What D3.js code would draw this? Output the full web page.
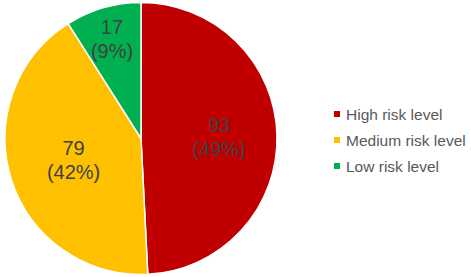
<!DOCTYPE html>
<html>
<head>
<meta charset="utf-8">
<script src="https://cdn.jsdelivr.net/npm/d3@7"></script>
<style>
  body { margin: 0; background: #fff; }
  svg { display: block; font-family: Arial, "Liberation Sans", sans-serif; }
</style>
</head>
<body>
<div id="chart"></div>
<script>
// data
var categories = ["High risk level", "Medium risk level", "Low risk level"];
var values = [93, 79, 17];
var colors = ["#C00000", "#FFC000", "#00B050"];

// layout
var width = 471, height = 277;
var cx = 141, cy = 138.5, radius = 136;
var labelFactor = [0.574, 0.52, 0.765];  // excel best-fit label spots

var svg = d3.select("#chart").append("svg")
    .attr("width", width)
    .attr("height", height);

var total = d3.sum(values);
var rows = categories.map(function(c, i) { return { name: c, value: values[i], color: colors[i], i: i }; });

var pie = d3.pie().sort(null).value(function(d) { return d.value; });
var arc = d3.arc().innerRadius(0).outerRadius(radius);

var g = svg.append("g").attr("transform", "translate(" + cx + "," + cy + ")");

var slices = pie(rows);

g.selectAll("path")
    .data(slices)
    .enter()
    .append("path")
        .attr("d", arc)
        .attr("fill", function(d) { return d.data.color; })
        .attr("stroke", "#fff")
        .attr("stroke-width", 1.5);

var labels = g.selectAll("text.lbl")
    .data(slices)
    .enter()
    .append("text")
        .attr("class", "lbl")
        .attr("text-anchor", "middle")
        .attr("font-size", 20)
        .attr("fill", "#404040")
        .attr("transform", function(d) {
            var r = radius * labelFactor[d.data.i];
            var c = d3.arc().innerRadius(r).outerRadius(r).centroid(d);
            return "translate(" + c[0] + "," + c[1] + ")";
        });

labels.append("tspan")
    .attr("x", 0).attr("y", -5)
    .text(function(d) { return d.data.value; });
labels.append("tspan")
    .attr("x", 0).attr("y", 19)
    .text(function(d) { return "(" + Math.round(d.data.value / total * 100) + "%)"; });

// legend
var legend = svg.append("g").attr("transform", "translate(334,114)");
var item = legend.selectAll("g")
    .data(rows)
    .enter()
    .append("g")
        .attr("transform", function(d, i) { return "translate(0," + (i * 26) + ")"; });

item.append("rect")
    .attr("x", 0).attr("y", -3)
    .attr("width", 6).attr("height", 6)
    .attr("fill", function(d) { return d.color; });

item.append("text")
    .attr("x", 12).attr("y", 5.5)
    .attr("font-size", 15.5)
    .attr("fill", "#595959")
    .text(function(d) { return d.name; });
</script>
</body>
</html>
